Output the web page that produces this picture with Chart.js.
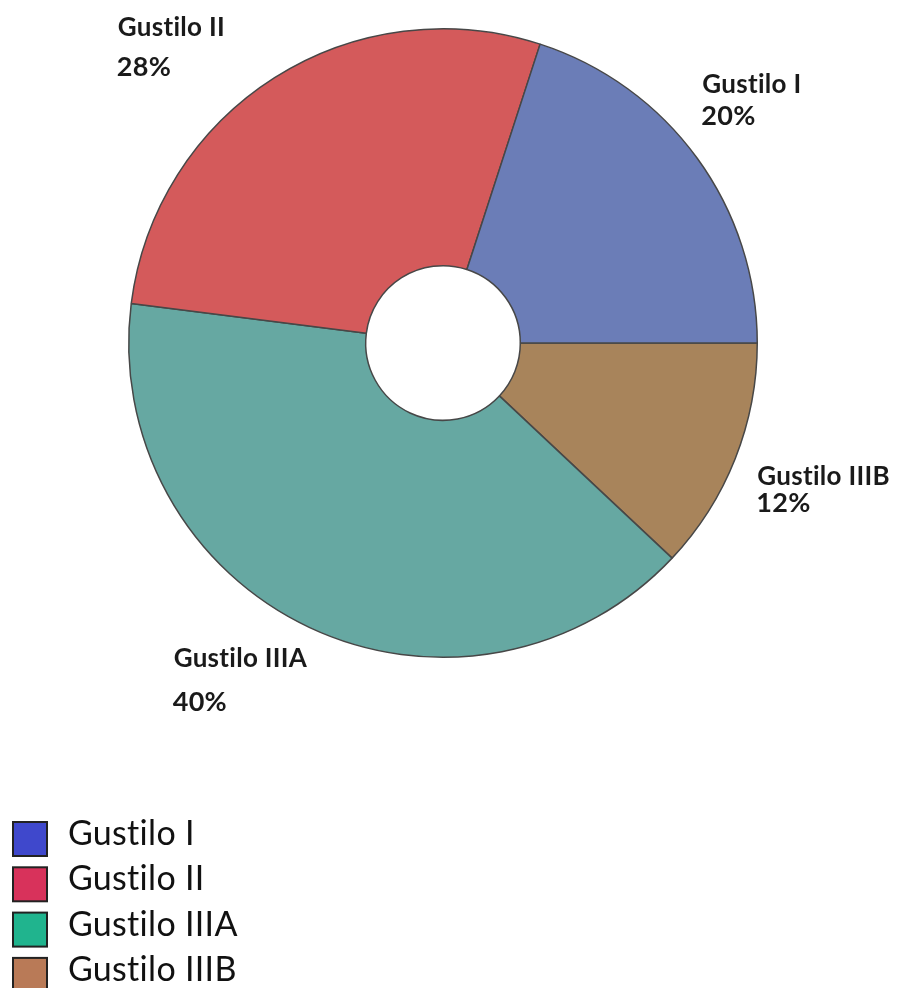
<!DOCTYPE html>
<html>
<head>
<meta charset="utf-8">
<script src="https://cdn.jsdelivr.net/npm/chart.js@4/dist/chart.umd.min.js"></script>
<style>
  html, body { margin: 0; padding: 0; background: #ffffff; }
  #wrap { width: 898px; height: 988px; }
</style>
</head>
<body>
<div id="wrap"><canvas id="c" width="898" height="988"></canvas></div>
<script>
// ---- data ----
const categories = ['Gustilo I', 'Gustilo II', 'Gustilo IIIA', 'Gustilo IIIB'];
const percentValues = [20, 28, 40, 12];
const sliceColors = ['#6B7DB7', '#D45A5B', '#66A8A2', '#A8845B'];
const legendColors = ['#3F48CC', '#D8325B', '#20B48E', '#B97A57'];

// slices run counter-clockwise in the reference -> feed Chart.js in reverse order
const order = categories.map((_, i) => i).reverse();

// label layout (fractions of radius from centre, and line gap in px)
const labelLayout = [
  { fx: 0.825, fy: -0.794, gap: 32 },
  { fx: -1.035, fy: -0.978, gap: 40 },
  { fx: -0.857, fy: 1.032, gap: 44 },
  { fx: 1.0, fy: 0.451, gap: 27 }
];

const sliceLabels = {
  id: 'sliceLabels',
  afterDatasetsDraw(chart) {
    const ctx = chart.ctx;
    const meta = chart.getDatasetMeta(0);
    const arc0 = meta.data[0];
    const cx = arc0.x, cy = arc0.y, r = arc0.outerRadius;
    ctx.save();
    if ('letterSpacing' in ctx) ctx.letterSpacing = '0.3px';
    ctx.fillStyle = '#1a1a1a';
    ctx.textAlign = 'left';
    ctx.textBaseline = 'alphabetic';
    meta.data.forEach((arc, j) => {
      const k = order[j];
      const L = labelLayout[k];
      const x = cx + r * L.fx;
      const y = cy + r * L.fy;
      ctx.font = 'bold 26px Lato';
      ctx.fillText(categories[k], x, y);
      ctx.font = 'bold 27px Lato';
      ctx.fillText(percentValues[k] + '%', x - 1, y + L.gap);
    });
    ctx.restore();
  }
};

const boxLegend = {
  id: 'boxLegend',
  afterDraw(chart) {
    const ctx = chart.ctx;
    const top = chart.chartArea.bottom + 181;
    const rowH = 45.3;
    const box = 34;
    ctx.save();
    if ('letterSpacing' in ctx) ctx.letterSpacing = '0.3px';
    categories.forEach((name, i) => {
      const cyRow = top + i * rowH;
      ctx.fillStyle = legendColors[i];
      ctx.fillRect(13, cyRow - box / 2, box, box);
      ctx.lineWidth = 2;
      ctx.strokeStyle = '#222222';
      ctx.strokeRect(13, cyRow - box / 2, box, box);
      ctx.fillStyle = '#111111';
      ctx.font = '34px Lato';
      ctx.textAlign = 'left';
      ctx.textBaseline = 'alphabetic';
      ctx.fillText(name, 68, cyRow + 6);
    });
    ctx.restore();
  }
};

new Chart(document.getElementById('c'), {
  type: 'doughnut',
  data: {
    labels: order.map(i => categories[i]),
    datasets: [{
      data: order.map(i => percentValues[i]),
      backgroundColor: order.map(i => sliceColors[i]),
      borderColor: '#474747',
      borderWidth: 1.5
    }]
  },
  options: {
    responsive: false,
    animation: false,
    devicePixelRatio: 1,
    rotation: 90,
    cutout: '24.6%',
    layout: { padding: { left: 128, right: 140, top: 28, bottom: 330 } },
    plugins: {
      legend: { display: false },
      tooltip: { enabled: false }
    }
  },
  plugins: [sliceLabels, boxLegend]
});
</script>
</body>
</html>
